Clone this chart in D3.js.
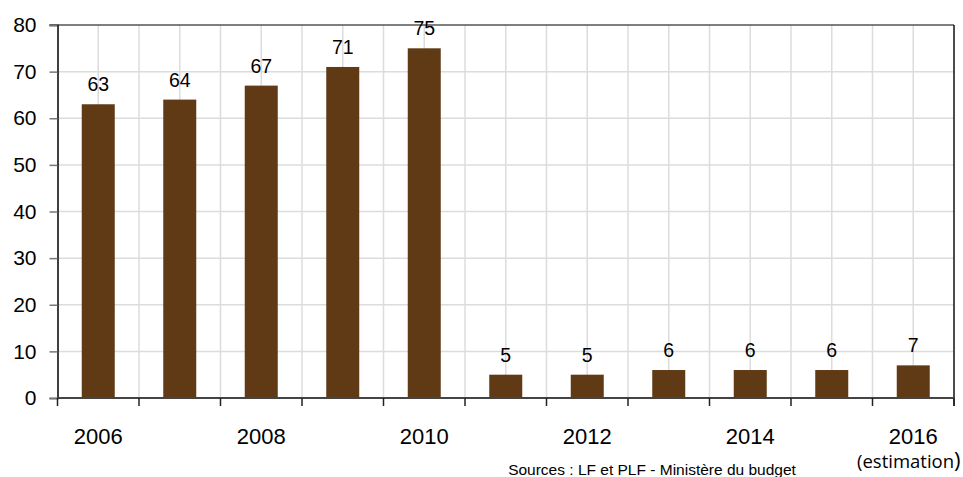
<!DOCTYPE html>
<html lang="fr">
<head>
  <meta charset="UTF-8">
  <title>Bar chart 2006-2016</title>
  <script src="https://d3js.org/d3.v7.min.js"></script>
  <style>
    body { margin: 0; background: #fff; }
    svg { display: block; font-family: "Liberation Sans", Arial, sans-serif; }
  </style>
</head>
<body>
  <div id="chart"></div>
  <script>
    const years = ['2006', '2007', '2008', '2009', '2010', '2011', '2012', '2013', '2014', '2015', '2016'];
    const values = [63, 64, 67, 71, 75, 5, 5, 6, 6, 6, 7];
    const yTicks = [0, 10, 20, 30, 40, 50, 60, 70, 80];
    const shownYears = ['2006', '2008', '2010', '2012', '2014', '2016'];

    const W = 963, H = 477;
    const m = { left: 57.5, right: 9, top: 25, bottom: 79 };

    const svg = d3.select('#chart').append('svg')
      .attr('width', W).attr('height', H);

    const x = d3.scaleBand().domain(years)
      .range([m.left, W - m.right])
      .paddingInner(0).paddingOuter(0);
    const y = d3.scaleLinear().domain([0, 80]).range([H - m.bottom, m.top]);

    const bw = x.bandwidth();

    // horizontal grid
    svg.append('g').selectAll('line').data(yTicks.filter(d => d > 0 && d < 80))
      .join('line')
      .attr('x1', m.left).attr('x2', W - m.right)
      .attr('y1', d => y(d)).attr('y2', d => y(d))
      .attr('stroke', '#dcdcdc').attr('stroke-width', 1.5);

    // vertical grid at band edges and centers
    const vgrid = [];
    years.forEach((yr, i) => {
      vgrid.push(x(yr) + bw / 2);
      if (i > 0) vgrid.push(x(yr));
    });
    svg.append('g').selectAll('line').data(vgrid)
      .join('line')
      .attr('x1', d => d).attr('x2', d => d)
      .attr('y1', m.top).attr('y2', y(0))
      .attr('stroke', '#dcdcdc').attr('stroke-width', 1.5);

    // bars
    const barW = 33;
    svg.append('g').selectAll('rect').data(values)
      .join('rect')
      .attr('x', (d, i) => x(years[i]) + bw / 2 - barW / 2)
      .attr('y', d => y(d))
      .attr('width', barW)
      .attr('height', d => y(0) - y(d))
      .attr('fill', '#5f3a14');

    // frame: top and right
    svg.append('line')
      .attr('x1', m.left - 8).attr('x2', W - m.right)
      .attr('y1', m.top).attr('y2', m.top)
      .attr('stroke', '#555').attr('stroke-width', 1.5);
    svg.append('line')
      .attr('x1', W - m.right).attr('x2', W - m.right)
      .attr('y1', m.top).attr('y2', y(0) + 8)
      .attr('stroke', '#111').attr('stroke-width', 1.5);

    // y axis
    const yAxis = svg.append('g')
      .attr('transform', `translate(${m.left},0)`)
      .call(d3.axisLeft(y).tickValues(yTicks).tickSize(8).tickPadding(13).tickFormat(d3.format('d')));
    yAxis.select('.domain').attr('stroke', '#000').attr('stroke-width', 1.5);
    yAxis.selectAll('.tick line').attr('stroke', '#777').attr('stroke-width', 1.5);
    yAxis.selectAll('.tick text').attr('font-size', 21).attr('fill', '#000')
      .attr('font-family', '"Liberation Sans", Arial, sans-serif');

    // x axis
    const xAxisLine = svg.append('g');
    xAxisLine.append('line')
      .attr('x1', m.left).attr('x2', W - m.right)
      .attr('y1', y(0)).attr('y2', y(0))
      .attr('stroke', '#444').attr('stroke-width', 2);
    const xTickPos = years.map(yr => x(yr)).concat([x(years[years.length - 1]) + bw]);
    xAxisLine.selectAll('line.t').data(xTickPos)
      .join('line').attr('class', 't')
      .attr('x1', d => d).attr('x2', d => d)
      .attr('y1', y(0)).attr('y2', y(0) + 8)
      .attr('stroke', '#222').attr('stroke-width', 1.5);

    svg.append('g').selectAll('text').data(shownYears)
      .join('text')
      .attr('x', d => x(d) + bw / 2)
      .attr('y', y(0) + 46)
      .attr('text-anchor', 'middle')
      .attr('font-size', 22)
      .attr('fill', '#000')
      .text(d => d);

    // value labels
    svg.append('g').selectAll('text').data(values)
      .join('text')
      .attr('x', (d, i) => x(years[i]) + bw / 2)
      .attr('y', d => y(d) - 13)
      .attr('text-anchor', 'middle')
      .attr('font-size', 19.5)
      .attr('fill', '#000')
      .text(d => d);

    // estimation note
    const est = svg.append('text')
      .attr('x', 857)
      .attr('y', 468)
      .attr('text-anchor', 'start')
      .attr('font-family', '"Open Sans", "DejaVu Sans", sans-serif')
      .attr('fill', '#000');
    est.append('tspan').attr('font-size', 18.5).text('(estimation');
    est.append('tspan').attr('font-size', 22).text(')');

    // source
    svg.append('text')
      .attr('x', 652)
      .attr('y', 475)
      .attr('text-anchor', 'middle')
      .attr('font-size', 15.5)
      .attr('fill', '#000')
      .text('Sources : LF et PLF - Ministère du budget');
  </script>
</body>
</html>
